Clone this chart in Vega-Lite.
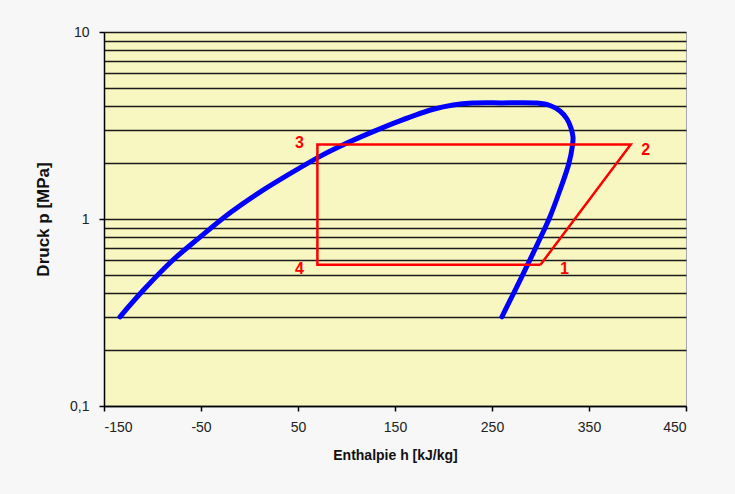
{
  "$schema": "https://vega.github.io/schema/vega-lite/v6.json",
  "autosize": {"type": "none"},
  "width": 582,
  "height": 374,
  "padding": {"left": 104, "top": 32, "right": 49, "bottom": 88},
  "background": "#F7F7F7",
  "config": {
    "view": {"fill": "#F9F7C1", "stroke": "#A8A8A8", "strokeWidth": 1},
    "font": "Liberation Sans"
  },
  "datasets": {
    "dome": [
      {"i": 1, "h": -133.5, "p": 0.3},
      {"i": 2, "h": -110, "p": 0.413},
      {"i": 3, "h": -80, "p": 0.596},
      {"i": 4, "h": -51, "p": 0.8},
      {"i": 5, "h": -20, "p": 1.079},
      {"i": 6, "h": 10, "p": 1.384},
      {"i": 7, "h": 40, "p": 1.726},
      {"i": 8, "h": 72.7, "p": 2.163},
      {"i": 9, "h": 96.7, "p": 2.495},
      {"i": 10, "h": 125, "p": 2.897},
      {"i": 11, "h": 155, "p": 3.35},
      {"i": 12, "h": 189.5, "p": 3.864},
      {"i": 13, "h": 210, "p": 4.074},
      {"i": 14, "h": 230, "p": 4.169},
      {"i": 15, "h": 260, "p": 4.178},
      {"i": 16, "h": 296.4, "p": 4.17},
      {"i": 17, "h": 309.8, "p": 4.046},
      {"i": 18, "h": 320.1, "p": 3.78},
      {"i": 19, "h": 327.3, "p": 3.426},
      {"i": 20, "h": 331.4, "p": 3.066},
      {"i": 21, "h": 333.5, "p": 2.745},
      {"i": 22, "h": 333.0, "p": 2.487},
      {"i": 23, "h": 329.4, "p": 1.993},
      {"i": 24, "h": 320.1, "p": 1.429},
      {"i": 25, "h": 309.8, "p": 1.029},
      {"i": 26, "h": 297.2, "p": 0.741},
      {"i": 27, "h": 285.7, "p": 0.556},
      {"i": 28, "h": 273.9, "p": 0.417},
      {"i": 29, "h": 260.2, "p": 0.3}
    ],
    "cycle": [
      {"i": 1, "pt": "1", "h": 300, "p": 0.57},
      {"i": 2, "pt": "2", "h": 393, "p": 2.5},
      {"i": 3, "pt": "3", "h": 70, "p": 2.5},
      {"i": 4, "pt": "4", "h": 70, "p": 0.57},
      {"i": 5, "pt": "1", "h": 300, "p": 0.57}
    ]
  },
  "encoding": {
    "x": {
      "field": "h", "type": "quantitative",
      "scale": {"domain": [-150, 450], "nice": false, "zero": false},
      "axis": {
        "title": "Enthalpie h [kJ/kg]",
        "values": [-150, -50, 50, 150, 250, 350, 450],
        "labelExpr": "'' + datum.value",
        "grid": false,
        "domainColor": "#000", "domainWidth": 1.5,
        "tickColor": "#000", "tickSize": 5, "tickWidth": 1.5,
        "labelFontSize": 14, "labelColor": "#222", "labelPadding": 9,
        "titleFontSize": 14, "titleFontWeight": "bold", "titleColor": "#111", "titlePadding": 14
      }
    },
    "y": {
      "field": "p", "type": "quantitative",
      "scale": {"type": "log", "domain": [0.1, 10], "nice": false},
      "axis": {
        "title": "Druck p [MPa]",
        "values": [0.1, 0.2, 0.3, 0.4, 0.5, 0.6, 0.7, 0.8, 0.9, 1, 2, 3, 4, 5, 6, 7, 8, 9, 10],
        "labelExpr": "datum.value == 0.1 ? '0,1' : (datum.value == 1 ? '1' : (datum.value == 10 ? '10' : ''))",
        "grid": true, "gridColor": "#1a1a1a", "gridWidth": 1.5, "gridOpacity": 1,
        "domainColor": "#000", "domainWidth": 1.5,
        "tickColor": "#000", "tickWidth": 1.5,
        "tickSize": {"condition": {"test": "datum.value == 0.1 || datum.value == 1 || datum.value == 10", "value": 5}, "value": 0},
        "labelFontSize": 14, "labelColor": "#222", "labelPadding": 10,
        "titleFontSize": 17, "titleFontWeight": "bold", "titleColor": "#111", "titlePadding": 17
      }
    }
  },
  "layer": [
    {
      "data": {"name": "dome"},
      "mark": {"type": "line", "color": "#0000FF", "strokeWidth": 5, "strokeCap": "round", "strokeJoin": "round", "interpolate": "catmull-rom"},
      "encoding": {"order": {"field": "i", "type": "quantitative"}}
    },
    {
      "data": {"name": "cycle"},
      "mark": {"type": "line", "color": "#FF0000", "strokeWidth": 2.5},
      "encoding": {"order": {"field": "i", "type": "quantitative"}}
    },
    {
      "data": {"name": "cycle"},
      "transform": [{"filter": "datum.i == 1"}],
      "mark": {"type": "text", "color": "#FF0000", "fontSize": 16, "fontWeight": "bold", "dx": 24, "dy": 4},
      "encoding": {"text": {"field": "pt"}}
    },
    {
      "data": {"name": "cycle"},
      "transform": [{"filter": "datum.i == 2"}],
      "mark": {"type": "text", "color": "#FF0000", "fontSize": 16, "fontWeight": "bold", "dx": 15, "dy": 5},
      "encoding": {"text": {"field": "pt"}}
    },
    {
      "data": {"name": "cycle"},
      "transform": [{"filter": "datum.i == 3"}],
      "mark": {"type": "text", "color": "#FF0000", "fontSize": 16, "fontWeight": "bold", "dx": -18, "dy": -2},
      "encoding": {"text": {"field": "pt"}}
    },
    {
      "data": {"name": "cycle"},
      "transform": [{"filter": "datum.i == 4"}],
      "mark": {"type": "text", "color": "#FF0000", "fontSize": 16, "fontWeight": "bold", "dx": -18, "dy": 4},
      "encoding": {"text": {"field": "pt"}}
    }
  ]
}
